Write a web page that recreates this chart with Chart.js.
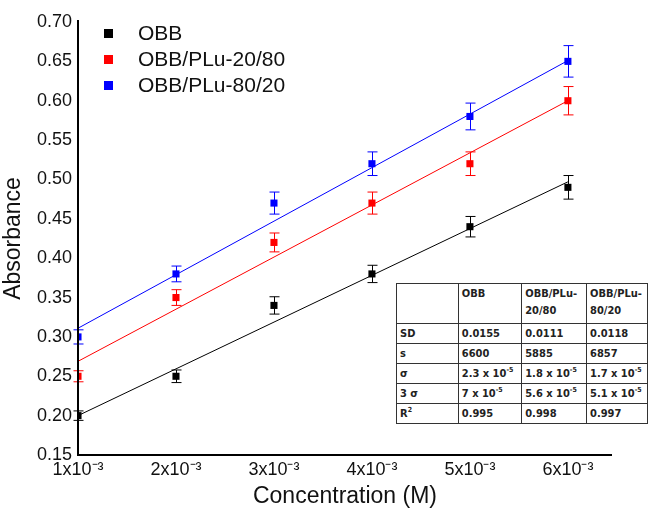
<!DOCTYPE html>
<html>
<head>
<meta charset="utf-8">
<script src="https://cdn.jsdelivr.net/npm/chart.js@4/dist/chart.umd.min.js"></script>
<style>
  body { margin: 0; background: #fff; }
  #wrap { position: relative; width: 648px; height: 510px; }
  #tbl {
    position: absolute; left: 396px; top: 283px;
    border-collapse: collapse; background: #fff;
    font-family: "DejaVu Sans Condensed", "Liberation Sans Narrow", "Liberation Sans", sans-serif;
    font-size: 11px; font-weight: bold; color: #222;
  }
  #tbl td { border: 1px solid #333; padding: 1px 3px; height: 17px; vertical-align: middle; line-height: 17px; }
  #tbl tr:first-child td { height: 37px; vertical-align: top; }
  #tbl sup { font-size: 7px; line-height: 0; }
</style>
</head>
<body>
<div id="wrap">
  <canvas id="chart" width="648" height="510"></canvas>
  <table id="tbl">
    <tr><td style="width:56px"></td><td style="width:57px">OBB</td><td style="width:58px">OBB/PLu-<br>20/80</td><td style="width:54px">OBB/PLu-<br>80/20</td></tr>
    <tr><td>SD</td><td>0.0155</td><td>0.0111</td><td>0.0118</td></tr>
    <tr><td>s</td><td>6600</td><td>5885</td><td>6857</td></tr>
    <tr><td>σ</td><td>2.3 x 10<sup>-5</sup></td><td>1.8 x 10<sup>-5</sup></td><td>1.7 x 10<sup>-5</sup></td></tr>
    <tr><td>3 σ</td><td>7 x 10<sup>-5</sup></td><td>5.6 x 10<sup>-5</sup></td><td>5.1 x 10<sup>-5</sup></td></tr>
    <tr><td>R<sup>2</sup></td><td>0.995</td><td>0.998</td><td>0.997</td></tr>
  </table>
</div>
<script>
// concentrations (M)
var conc = [0.001, 0.002, 0.003, 0.004, 0.005, 0.006];
var seriesNames = ["OBB", "OBB/PLu-20/80", "OBB/PLu-80/20"];
var seriesColors = ["#000000", "#ff0000", "#0000ff"];

var obb = [0.20, 0.25, 0.34, 0.38, 0.44, 0.49];
var obb2080 = [0.25, 0.35, 0.42, 0.47, 0.52, 0.60];
var obb8020 = [0.30, 0.38, 0.47, 0.52, 0.58, 0.65];

var errObb = [0.006, 0.008, 0.011, 0.011, 0.013, 0.015];
var err2080 = [0.007, 0.010, 0.012, 0.014, 0.015, 0.018];
var err8020 = [0.009, 0.010, 0.014, 0.015, 0.017, 0.020];

// fitted line ends, read at x = 1e-3 and 6e-3
var fitX = [0.001, 0.006];
var fitObb = [0.200, 0.497];
var fit2080 = [0.269, 0.600];
var fit8020 = [0.311, 0.651];

var yTicks = [0.15, 0.20, 0.25, 0.30, 0.35, 0.40, 0.45, 0.50, 0.55, 0.60, 0.65, 0.70];

function pts(xs, ys) {
  return xs.map(function (x, i) { return { x: x, y: ys[i] }; });
}

var values = [obb, obb2080, obb8020];
var errors = [errObb, err2080, err8020];
var fits = [fitObb, fit2080, fit8020];

var datasets = [];
for (var i = 0; i < 3; i++) {
  datasets.push({
    label: seriesNames[i] + " fit",
    data: pts(fitX, fits[i]),
    showLine: true,
    borderColor: seriesColors[i],
    borderWidth: 1,
    pointRadius: 0
  });
}
for (var i = 0; i < 3; i++) {
  datasets.push({
    label: seriesNames[i],
    data: pts(conc, values[i]),
    showLine: false,
    backgroundColor: seriesColors[i],
    borderColor: seriesColors[i],
    borderWidth: 0,
    pointStyle: "rect",
    pointRadius: 5,
    errors: errors[i]
  });
}

var errorBars = {
  id: "errorBars",
  beforeDatasetsDraw: function (chart) {
    var c = chart.ctx, xs = chart.scales.x, ys = chart.scales.y;
    c.save();
    chart.data.datasets.forEach(function (ds) {
      if (!ds.errors) return;
      c.strokeStyle = ds.borderColor;
      c.lineWidth = 1;
      ds.data.forEach(function (p, j) {
        var px = Math.round(xs.getPixelForValue(p.x)) + 0.5;
        var top = ys.getPixelForValue(p.y + ds.errors[j]);
        var bot = ys.getPixelForValue(p.y - ds.errors[j]);
        c.beginPath();
        c.moveTo(px, top); c.lineTo(px, bot);
        c.moveTo(px - 5, top); c.lineTo(px + 5, top);
        c.moveTo(px - 5, bot); c.lineTo(px + 5, bot);
        c.stroke();
      });
    });
    c.restore();
  }
};

var legendBox = {
  id: "legendBox",
  afterDraw: function (chart) {
    var c = chart.ctx;
    c.save();
    c.font = "21px 'Liberation Sans', Arial, sans-serif";
    c.textBaseline = "middle";
    for (var i = 0; i < 3; i++) {
      var y = 33 + i * 26;
      c.fillStyle = seriesColors[i];
      c.fillRect(104, y - 4, 9, 9);
      c.fillStyle = "#111";
      c.fillText(seriesNames[i], 138, y + 1);
    }
    c.restore();
  }
};

var axisLines = {
  id: "axisLines",
  afterDraw: function (chart) {
    var c = chart.ctx, a = chart.chartArea;
    c.save();
    c.strokeStyle = "#000";
    c.lineWidth = 2;
    c.beginPath();
    c.moveTo(a.left, a.top - 2);
    c.lineTo(a.left, a.bottom);
    c.lineTo(a.right, a.bottom);
    c.stroke();
    c.restore();
  }
};

var tickFont = { size: 18, family: "'Liberation Sans', Arial, sans-serif" };
var titleFont = { size: 23, family: "'Liberation Sans', Arial, sans-serif" };

new Chart(document.getElementById("chart"), {
  type: "scatter",
  data: { datasets: datasets },
  options: {
    responsive: false,
    animation: false,
    layout: { padding: { top: 22, right: 36, left: 0, bottom: 0 } },
    plugins: {
      legend: { display: false },
      tooltip: { enabled: false }
    },
    scales: {
      x: {
        type: "linear",
        min: 0.001,
        max: 0.00645,
        grid: { display: false, drawTicks: false },
        border: { display: false },
        afterBuildTicks: function (s) {
          s.ticks = conc.map(function (v) { return { value: v }; });
        },
        ticks: {
          autoSkip: false,
          maxRotation: 0,
          padding: 4,
          color: "#111",
          font: tickFont,
          callback: function (v) { return Math.round(v * 1000) + "x10\u207B\u00B3"; }
        },
        title: {
          display: true,
          text: "Concentration (M)",
          color: "#111",
          font: titleFont,
          padding: { top: 5, bottom: 0 }
        },
        afterFit: function (s) { s.height = 55; }
      },
      y: {
        min: 0.15,
        max: 0.70,
        grid: { display: false, drawTicks: false },
        border: { display: false },
        afterBuildTicks: function (s) {
          s.ticks = yTicks.map(function (v) { return { value: v }; });
        },
        ticks: {
          autoSkip: false,
          padding: 6,
          color: "#111",
          font: tickFont,
          callback: function (v) { return v.toFixed(2); }
        },
        title: {
          display: true,
          text: "Absorbance",
          color: "#111",
          font: titleFont,
          padding: { top: 0, bottom: 1 }
        },
        afterFit: function (s) { s.width = 78; }
      }
    }
  },
  plugins: [errorBars, axisLines, legendBox]
});
</script>
</body>
</html>
